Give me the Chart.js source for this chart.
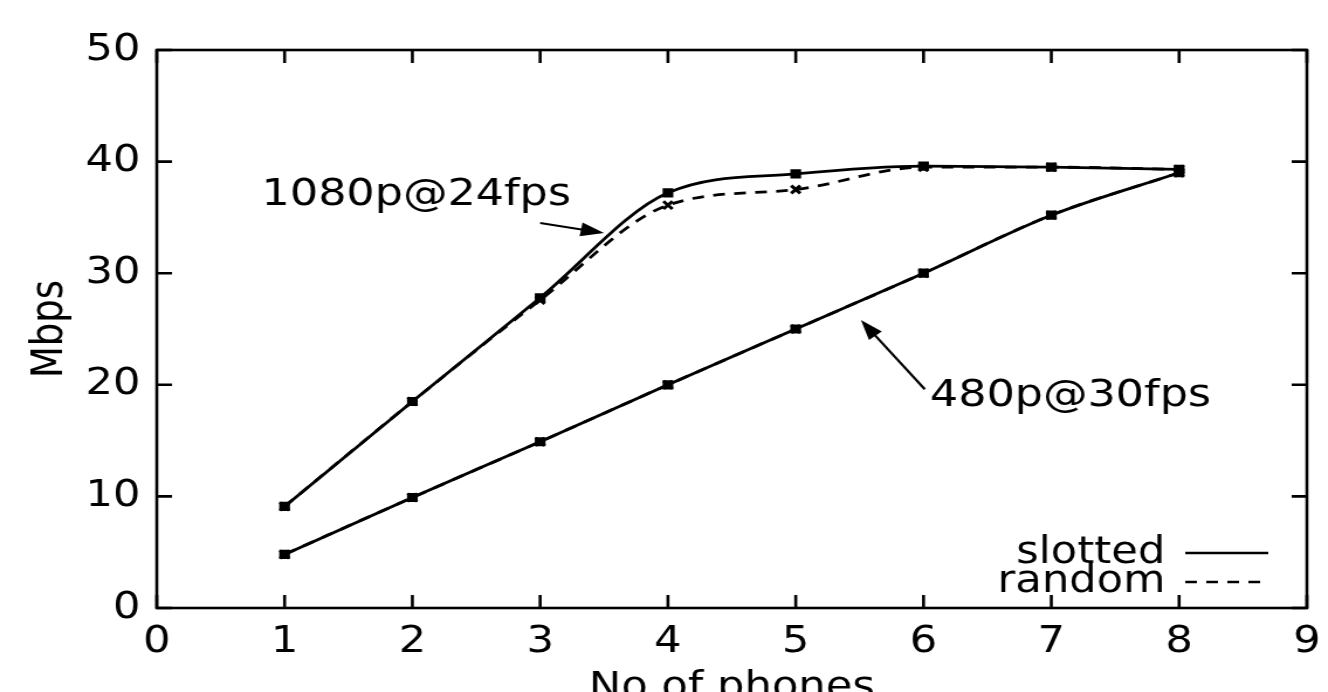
<!DOCTYPE html>
<html lang="en">
<head>
  <meta charset="UTF-8">
  <title>Mbps vs No of phones</title>
  <script src="https://cdn.jsdelivr.net/npm/chart.js"></script>
  <style>
    html, body {
      margin: 0;
      padding: 0;
      background: #fff;
      width: 1328px;
      height: 692px;
      overflow: hidden;
    }
    /* the original plot is stretched sideways, so draw narrow and widen it */
    .stretch {
      width: 1135px;
      height: 717px;
      transform: scaleX(1.17);
      transform-origin: 0 0;
    }
  </style>
</head>
<body>
  <div class="stretch"><canvas id="chart"></canvas></div>

  <script>
    // values
    const phones = [1, 2, 3, 4, 5, 6, 7, 8];
    const hd1080Slotted = [9.1, 18.5, 27.8, 37.2, 38.9, 39.6, 39.5, 39.3];
    const hd1080Random = [9.1, 18.5, 27.6, 36.1, 37.5, 39.5, 39.5, 39.3];
    const sd480Slotted = [4.8, 9.9, 14.9, 20.0, 25.0, 30.0, 35.2, 39.0];
    const sd480Random = [4.8, 9.9, 14.9, 20.0, 25.0, 30.0, 35.2, 39.0];

    const xTicks = [0, 1, 2, 3, 4, 5, 6, 7, 8, 9];
    const yTicks = [0, 10, 20, 30, 40, 50];

    const legendLabels = ['slotted', 'random'];

    // labels with arrows, in data units
    const noteLabels = ['1080p@24fps', '480p@30fps'];
    const noteText = [[0.82, 37.0], [6.05, 19.0]];
    const noteArrowFrom = [[3.0, 34.5], [6.01, 19.6]];
    const noteArrowTo = [[3.5, 33.6], [5.51, 25.8]];

    const FONT = "'DejaVu Sans', sans-serif";
    Chart.defaults.font.family = FONT;
    Chart.defaults.font.size = 37;
    Chart.defaults.color = '#000';

    function points(ys) {
      return phones.map((x, i) => ({ x: x, y: ys[i] }));
    }

    function solid(ys) {
      return {
        data: points(ys),
        borderColor: '#000',
        backgroundColor: '#000',
        borderWidth: 2.8,
        pointStyle: 'rect',
        pointRadius: 4.5,
        cubicInterpolationMode: 'monotone',
        fill: false
      };
    }

    function dashed(ys) {
      return {
        data: points(ys),
        borderColor: '#000',
        backgroundColor: '#000',
        borderWidth: 2.8,
        borderDash: [10, 8],
        pointStyle: 'crossRot',
        pointRadius: 5.5,
        pointBorderWidth: 3,
        cubicInterpolationMode: 'monotone',
        fill: false
      };
    }

    // box with inward ticks on all four sides
    const framePlugin = {
      id: 'frame',
      afterDatasetsDraw(chart) {
        const { ctx, chartArea: a, scales } = chart;
        const len = 13;
        ctx.save();
        ctx.strokeStyle = '#000';
        ctx.lineWidth = 2.6;
        ctx.strokeRect(a.left, a.top, a.right - a.left, a.bottom - a.top);
        ctx.beginPath();
        xTicks.forEach(v => {
          const px = scales.x.getPixelForValue(v);
          ctx.moveTo(px, a.bottom); ctx.lineTo(px, a.bottom - len);
          ctx.moveTo(px, a.top); ctx.lineTo(px, a.top + len);
        });
        yTicks.forEach(v => {
          const py = scales.y.getPixelForValue(v);
          ctx.moveTo(a.left, py); ctx.lineTo(a.left + len, py);
          ctx.moveTo(a.right, py); ctx.lineTo(a.right - len, py);
        });
        ctx.stroke();
        ctx.restore();
      }
    };

    // key in the lower right corner
    const keyPlugin = {
      id: 'key',
      afterDraw(chart) {
        const { ctx, chartArea: a } = chart;
        const rows = [a.bottom - 55, a.bottom - 26];
        ctx.save();
        ctx.font = '37px ' + FONT;
        ctx.fillStyle = '#000';
        ctx.strokeStyle = '#000';
        ctx.lineWidth = 2.6;
        ctx.textAlign = 'right';
        ctx.textBaseline = 'middle';
        legendLabels.forEach((txt, i) => {
          ctx.fillText(txt, a.right - 121, rows[i]);
          ctx.setLineDash(i === 0 ? [] : [10, 8]);
          ctx.beginPath();
          ctx.moveTo(a.right - 104, rows[i]);
          ctx.lineTo(a.right - 33, rows[i]);
          ctx.stroke();
        });
        ctx.restore();
      }
    };

    // text labels with arrows pointing at the curves
    const notePlugin = {
      id: 'notes',
      afterDraw(chart) {
        const { ctx, scales: { x, y } } = chart;
        ctx.save();
        ctx.font = '38px ' + FONT;
        ctx.fillStyle = '#000';
        ctx.strokeStyle = '#000';
        ctx.lineWidth = 2.2;
        ctx.textAlign = 'left';
        ctx.textBaseline = 'middle';
        noteLabels.forEach((txt, i) => {
          ctx.fillText(txt, x.getPixelForValue(noteText[i][0]), y.getPixelForValue(noteText[i][1]));
          const x0 = x.getPixelForValue(noteArrowFrom[i][0]);
          const y0 = y.getPixelForValue(noteArrowFrom[i][1]);
          const x1 = x.getPixelForValue(noteArrowTo[i][0]);
          const y1 = y.getPixelForValue(noteArrowTo[i][1]);
          const ang = Math.atan2(y1 - y0, x1 - x0);
          ctx.beginPath();
          ctx.moveTo(x0, y0);
          ctx.lineTo(x1 - 10 * Math.cos(ang), y1 - 10 * Math.sin(ang));
          ctx.stroke();
          ctx.beginPath();
          ctx.moveTo(x1, y1);
          ctx.lineTo(x1 - 20 * Math.cos(ang) + 7 * Math.sin(ang), y1 - 20 * Math.sin(ang) - 7 * Math.cos(ang));
          ctx.lineTo(x1 - 20 * Math.cos(ang) - 7 * Math.sin(ang), y1 - 20 * Math.sin(ang) + 7 * Math.cos(ang));
          ctx.closePath();
          ctx.fill();
        });
        ctx.restore();
      }
    };

    new Chart(document.getElementById('chart'), {
      type: 'line',
      data: {
        datasets: [
          solid(hd1080Slotted),
          dashed(hd1080Random),
          solid(sd480Slotted),
          dashed(sd480Random)
        ]
      },
      options: {
        responsive: true,
        maintainAspectRatio: false,
        animation: false,
        layout: { padding: { top: 50, right: 18, bottom: 0, left: 0 } },
        plugins: {
          legend: { display: false },
          tooltip: { enabled: false }
        },
        scales: {
          x: {
            type: 'linear',
            min: 0,
            max: 9,
            afterBuildTicks: s => { s.ticks = xTicks.map(v => ({ value: v })); },
            afterFit: s => { s.height = 109; s.paddingLeft = 0; s.paddingRight = 0; },
            grid: { display: false, drawTicks: false },
            border: { display: false },
            ticks: { padding: 12, maxRotation: 0 },
            title: { display: true, text: 'No of phones', padding: { top: 6, bottom: 6 } }
          },
          y: {
            min: 0,
            max: 50,
            afterBuildTicks: s => { s.ticks = yTicks.map(v => ({ value: v })); },
            afterFit: s => { s.width = 134; s.paddingTop = 0; s.paddingBottom = 0; },
            grid: { display: false, drawTicks: false },
            border: { display: false },
            ticks: { padding: 14 },
            title: { display: true, text: 'Mbps', padding: { top: 21, bottom: 0 } }
          }
        }
      },
      plugins: [framePlugin, keyPlugin, notePlugin]
    });
  </script>
</body>
</html>
